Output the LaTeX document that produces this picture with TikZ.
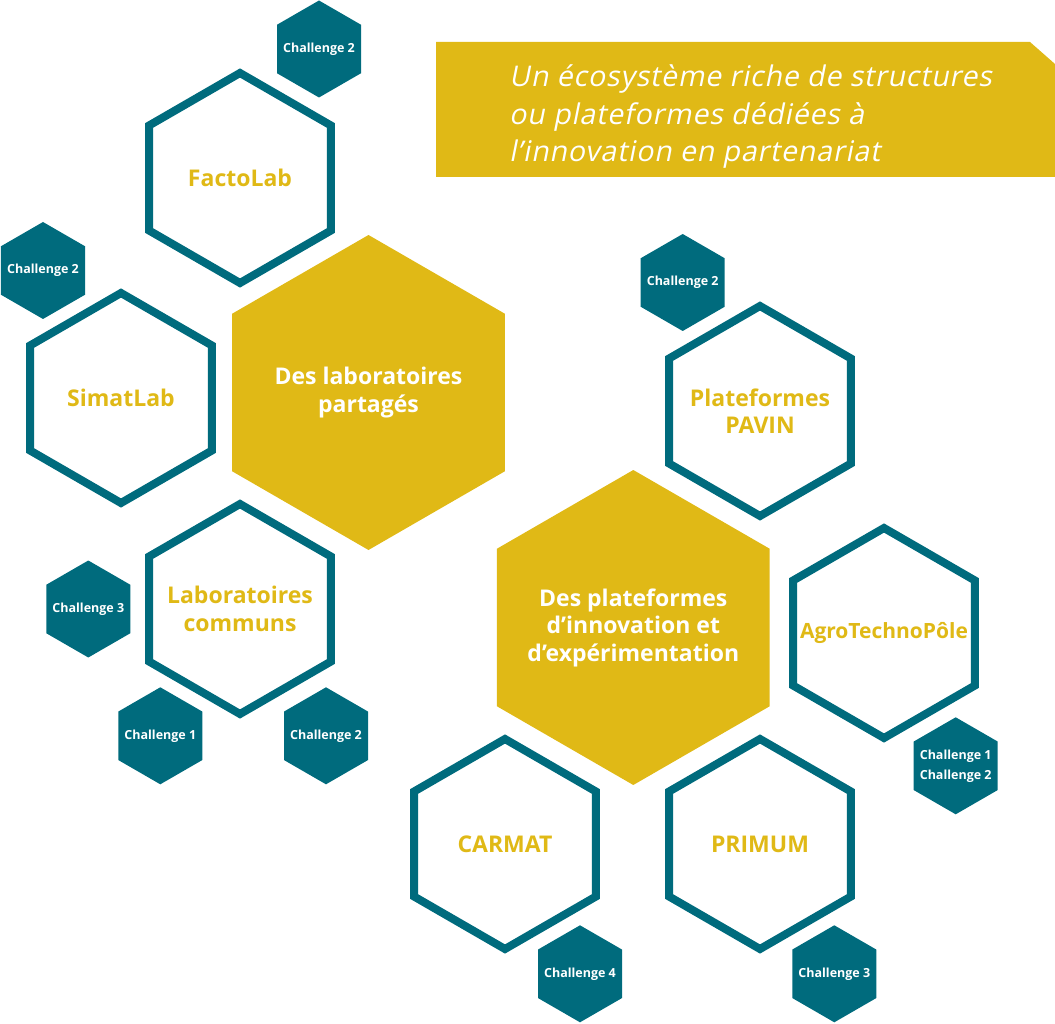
\documentclass[tikz,border=0pt]{standalone}
\usepackage{fontspec}
\setmainfont{Open Sans}
\newfontfamily\slantfont[FakeSlant=0.2,LetterSpace=3]{Open Sans}
\usepackage{tikz}
\usetikzlibrary{shapes.geometric}
\definecolor{gold}{HTML}{E0B916}
\definecolor{petrol}{HTML}{006B7D}

\begin{document}
\begin{tikzpicture}[x=1pt,y=-1pt,
  hexa/.style={regular polygon, regular polygon sides=6, shape border rotate=30,
    inner sep=-30pt, outer sep=0pt, align=center},
  bighex/.style={hexa, fill=gold, minimum size=315pt, text=white,
    font=\bfseries\fontsize{23}{27.5}\selectfont},
  ringhex/.style={hexa, draw=petrol, line width=8pt, fill=white, minimum size=210pt,
    text=gold, font=\bfseries\fontsize{23}{27.5}\selectfont},
  chalhex/.style={hexa, fill=petrol, minimum size=97pt, text=white,
    font=\bfseries\fontsize{12.5}{20}\selectfont}]
\useasboundingbox (0,0) rectangle (1055,1024);
% draws the banner
\fill[gold] (436,42) -- (1030,42) -- (1055,64) -- (1055,177) -- (436,177) -- cycle;
\node[anchor=west, align=left, inner sep=0pt, text=white,
  font=\slantfont\fontsize{28.5}{37.5}\selectfont] (title) at (509,117)
  {Un écosystème riche de structures\\ou plateformes dédiées à\\l’innovation en partenariat};
% draws the big hexagons
\node[bighex] (labshare) at (368.5,392.5) {Des laboratoires\\partagés};
\node[bighex] (platinno) at (633.3,627.5) {Des plateformes\\d’innovation et\\d’expérimentation};
% draws the structures
\node[ringhex] (factolab) at (240,178) {FactoLab};
\node[ringhex] (simatlab) at (121,398) {SimatLab};
\node[ringhex] (labcommun) at (240,609) {Laboratoires\\communs};
\node[ringhex] (pavin) at (760,411) {Plateformes\\PAVIN};
\node[ringhex, font=\bfseries\fontsize{21}{27.5}\selectfont] (agro) at (884,633) {AgroTechnoPôle};
\node[ringhex] (carmat) at (505,844) {CARMAT};
\node[ringhex] (primum) at (760,844) {PRIMUM};
% draws the challenges
\node[chalhex] (chfacto) at (319,49) {Challenge 2};
\node[chalhex] (chsimat) at (43,270.5) {Challenge 2};
\node[chalhex] (chcomA) at (88.3,609) {Challenge 3};
\node[chalhex] (chcomB) at (160.3,735.8) {Challenge 1};
\node[chalhex] (chcomC) at (326,735.8) {Challenge 2};
\node[chalhex] (chpavin) at (682.7,282.5) {Challenge 2};
\node[chalhex] (chagro) at (955.7,765.8) {Challenge 1\\Challenge 2};
\node[chalhex] (chcarmat) at (580,973.8) {Challenge 4};
\node[chalhex] (chprimum) at (834.3,973.8) {Challenge 3};
\end{tikzpicture}
\end{document}
